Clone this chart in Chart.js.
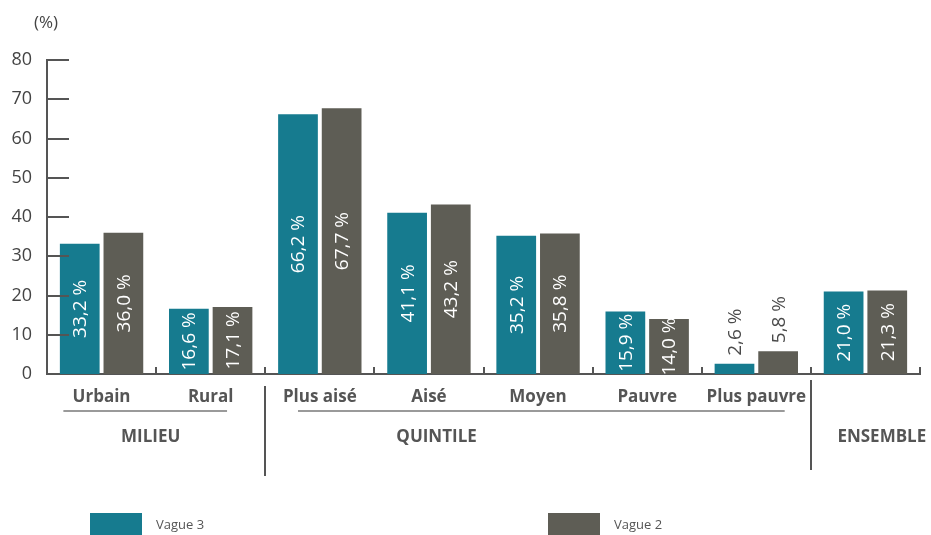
<!DOCTYPE html>
<html lang="fr">
<head>
<meta charset="utf-8">
<title>Vague 3 / Vague 2</title>
<script src="https://cdn.jsdelivr.net/npm/chart.js@4/dist/chart.umd.min.js"></script>
<style>
  html, body { margin: 0; padding: 0; background: #ffffff; }
  #wrap { width: 931px; height: 535px; }
</style>
</head>
<body>
<div id="wrap"><canvas id="c" width="931" height="535"></canvas></div>
<script>
// Catégories et valeurs (%)
const categories = ['Urbain', 'Rural', 'Plus aisé', 'Aisé', 'Moyen', 'Pauvre', 'Plus pauvre', ''];
const vague3 = [33.2, 16.6, 66.2, 41.1, 35.2, 15.9, 2.6, 21.0];
const vague2 = [36.0, 17.1, 67.7, 43.2, 35.8, 14.0, 5.8, 21.3];
const yTicks = [0, 10, 20, 30, 40, 50, 60, 70, 80];
const seriesNames = ['Vague 3', 'Vague 2'];
const groupNames = ['MILIEU', 'QUINTILE', 'ENSEMBLE'];
const unitLabel = '(%)';

const TEAL = '#167b8f';
const GREY = '#5e5d55';
const AXIS = '#555555';
const FONT = '"Open Sans", "DejaVu Sans", sans-serif';

function fmt(v) {
  return v.toFixed(1).replace('.', ',') + ' %';
}

const decorations = {
  id: 'decorations',
  afterDatasetsDraw(chart) {
    const ctx = chart.ctx;
    const x = chart.scales.x;
    const y = chart.scales.y;
    const area = chart.chartArea;
    const base = y.getPixelForValue(0);

    ctx.save();
    // petites graduations de l'axe des ordonnées (vers l'intérieur)
    ctx.strokeStyle = AXIS;
    ctx.lineWidth = 2;
    yTicks.forEach(v => {
      if (v === 0) return;
      const py = Math.round(y.getPixelForValue(v));
      ctx.beginPath();
      ctx.moveTo(area.left, py);
      ctx.lineTo(area.left + 22, py);
      ctx.stroke();
    });
    // graduations entre catégories, vers le haut
    for (let i = 0; i <= categories.length; i++) {
      const px = Math.round(x.getPixelForValue(i - 0.5));
      ctx.beginPath();
      ctx.moveTo(px, base);
      ctx.lineTo(px, base - 7);
      ctx.stroke();
    }

    // étiquettes de valeur, verticales
    ctx.font = '19px ' + FONT;
    ctx.textBaseline = 'middle';
    chart.data.datasets.forEach((ds, di) => {
      const meta = chart.getDatasetMeta(di);
      meta.data.forEach((bar, i) => {
        const v = ds.data[i];
        const txt = fmt(v);
        ctx.save();
        if (v >= 10) {
          ctx.translate(bar.x, (bar.y + bar.base) / 2);
          ctx.rotate(-Math.PI / 2);
          ctx.textAlign = 'center';
          ctx.fillStyle = '#ffffff';
        } else {
          ctx.translate(bar.x, bar.y - 8);
          ctx.rotate(-Math.PI / 2);
          ctx.textAlign = 'left';
          ctx.fillStyle = '#4a4a4a';
        }
        ctx.fillText(txt, 0, 1);
        ctx.restore();
      });
    });

    // regroupements sous l'axe
    ctx.fillStyle = '#555555';
    ctx.font = 'bold 17px ' + FONT;
    ctx.textAlign = 'center';
    ctx.textBaseline = 'middle';
    ctx.fillText(groupNames[0], x.getPixelForValue(0.45), 437);
    ctx.fillText(groupNames[1], x.getPixelForValue(3.07), 437);
    ctx.fillText(groupNames[2], x.getPixelForValue(7.15), 437);

    ctx.strokeStyle = '#9a9a9a';
    ctx.lineWidth = 2;
    ctx.beginPath();
    ctx.moveTo(x.getPixelForValue(-0.35), 411);
    ctx.lineTo(x.getPixelForValue(1.15), 411);
    ctx.moveTo(x.getPixelForValue(1.8), 411);
    ctx.lineTo(x.getPixelForValue(6.26), 411);
    ctx.stroke();

    ctx.strokeStyle = AXIS;
    ctx.beginPath();
    const s1 = Math.round(x.getPixelForValue(1.5));
    const s2 = Math.round(x.getPixelForValue(6.5));
    ctx.moveTo(s1, 386);
    ctx.lineTo(s1, 476);
    ctx.moveTo(s2, 380);
    ctx.lineTo(s2, 470);
    ctx.stroke();

    // unité
    ctx.fillStyle = '#444444';
    ctx.font = '17px ' + FONT;
    ctx.textAlign = 'center';
    ctx.fillText(unitLabel, 46, 23);

    // légende
    const legendX = [90, 548];
    ctx.font = '13px ' + FONT;
    ctx.textAlign = 'left';
    chart.data.datasets.forEach((ds, di) => {
      ctx.fillStyle = ds.backgroundColor;
      ctx.fillRect(legendX[di], 513, 52, 22);
      ctx.fillStyle = '#555555';
      ctx.fillText(ds.label, legendX[di] + 66, 525);
    });
    ctx.restore();
  }
};

new Chart(document.getElementById('c'), {
  type: 'bar',
  data: {
    labels: categories,
    datasets: [
      { label: seriesNames[0], data: vague3, backgroundColor: TEAL },
      { label: seriesNames[1], data: vague2, backgroundColor: GREY }
    ]
  },
  options: {
    responsive: false,
    animation: false,
    devicePixelRatio: 1,
    layout: { padding: { top: 60, right: 11, left: 0, bottom: 0 } },
    datasets: { bar: { categoryPercentage: 0.8, barPercentage: 0.91 } },
    plugins: {
      legend: { display: false },
      tooltip: { enabled: false }
    },
    scales: {
      x: {
        grid: { display: false },
        border: { display: true, color: AXIS, width: 2 },
        ticks: {
          color: '#555555',
          font: { family: FONT, size: 17, weight: 'bold' },
          padding: 5,
          maxRotation: 0,
          autoSkip: false
        },
        afterFit(s) { s.height = 161; }
      },
      y: {
        min: 0,
        max: 80,
        afterBuildTicks(s) { s.ticks = yTicks.map(v => ({ value: v })); },
        grid: { display: false },
        border: { display: true, color: AXIS, width: 2 },
        ticks: {
          color: '#444444',
          font: { family: FONT, size: 18 },
          padding: 7
        },
        afterFit(s) { s.width = 47; }
      }
    }
  },
  plugins: [decorations]
});
</script>
</body>
</html>
